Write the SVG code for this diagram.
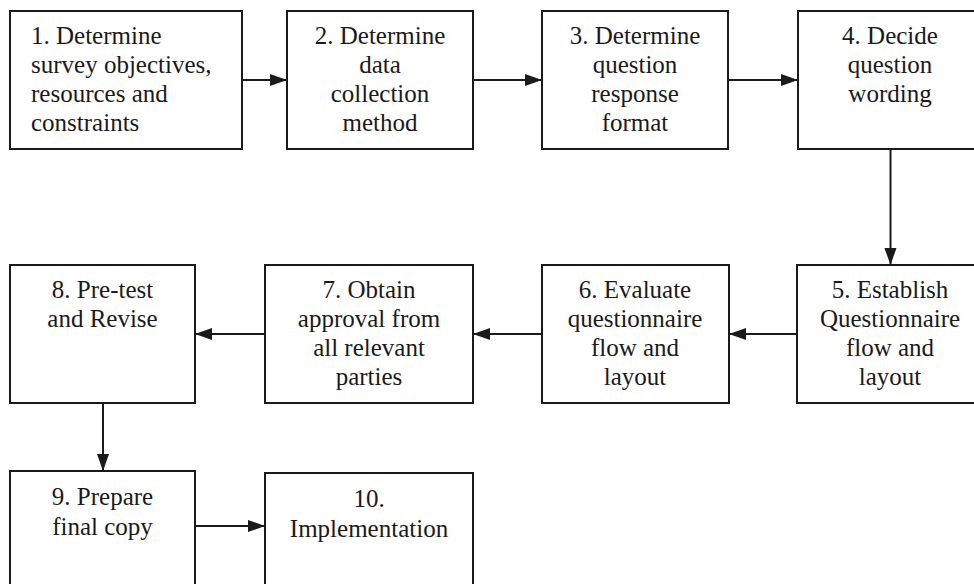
<svg xmlns="http://www.w3.org/2000/svg" width="974" height="584" viewBox="0 0 974 584">
  <style>
    .box { fill: #ffffff; stroke: #1a1a1a; stroke-width: 2; }
    text { font-size: 25px; fill: #1a1a1a; text-anchor: middle; }
    text.left { text-anchor: start; }
    .conn { stroke: #1a1a1a; stroke-width: 2; fill: none; marker-end: url(#arrow); }
  </style>
  <defs>
    <marker id="arrow" markerUnits="userSpaceOnUse" markerWidth="18" markerHeight="13" refX="17" refY="6" orient="auto">
      <path d="M0,0 L17,6 L0,12 z" fill="#1a1a1a"/>
    </marker>
  </defs>
  <rect width="974" height="584" fill="#ffffff"/>

  <g font-family="Liberation Serif, Tinos, DejaVu Serif, Times New Roman, serif">
  <g id="step1">
    <rect class="box" x="10" y="11" width="232" height="138"/>
    <text class="left" x="31" y="44">1. Determine</text>
    <text class="left" x="31" y="73">survey objectives,</text>
    <text class="left" x="31" y="102">resources and</text>
    <text class="left" x="31" y="131">constraints</text>
  </g>
  <g id="step2">
    <rect class="box" x="287" y="11" width="186" height="138"/>
    <text x="380" y="44">2. Determine</text>
    <text x="380" y="73">data</text>
    <text x="380" y="102">collection</text>
    <text x="380" y="131">method</text>
  </g>
  <g id="step3">
    <rect class="box" x="542" y="11" width="186" height="138"/>
    <text x="635" y="44">3. Determine</text>
    <text x="635" y="73">question</text>
    <text x="635" y="102">response</text>
    <text x="635" y="131">format</text>
  </g>
  <g id="step4">
    <rect class="box" x="798" y="11" width="186" height="138"/>
    <text x="890" y="44">4. Decide</text>
    <text x="890" y="73">question</text>
    <text x="890" y="102">wording</text>
  </g>
  <g id="step5">
    <rect class="box" x="797" y="265" width="187" height="138"/>
    <text x="890" y="298">5. Establish</text>
    <text x="890" y="327">Questionnaire</text>
    <text x="890" y="356">flow and</text>
    <text x="890" y="385">layout</text>
  </g>
  <g id="step6">
    <rect class="box" x="542" y="265" width="187" height="138"/>
    <text x="635" y="298">6. Evaluate</text>
    <text x="635" y="327">questionnaire</text>
    <text x="635" y="356">flow and</text>
    <text x="635" y="385">layout</text>
  </g>
  <g id="step7">
    <rect class="box" x="265" y="265" width="208" height="138"/>
    <text x="369" y="298">7. Obtain</text>
    <text x="369" y="327">approval from</text>
    <text x="369" y="356">all relevant</text>
    <text x="369" y="385">parties</text>
  </g>
  <g id="step8">
    <rect class="box" x="10" y="265" width="185" height="138"/>
    <text x="102.5" y="298">8. Pre-test</text>
    <text x="102.5" y="327">and Revise</text>
  </g>
  <g id="step9">
    <rect class="box" x="10" y="471" width="185" height="130"/>
    <text x="102.5" y="505">9. Prepare</text>
    <text x="102.5" y="535">final copy</text>
  </g>
  <g id="step10">
    <rect class="box" x="265" y="473" width="208" height="130"/>
    <text x="369" y="507">10.</text>
    <text x="369" y="537">Implementation</text>
  </g>
  </g>

  <g id="connectors">
    <line class="conn" x1="242" y1="80" x2="287" y2="80"/>
    <line class="conn" x1="473" y1="80" x2="542" y2="80"/>
    <line class="conn" x1="728" y1="80" x2="798" y2="80"/>
    <line class="conn" x1="890.5" y1="149" x2="890.5" y2="265"/>
    <line class="conn" x1="797" y1="334" x2="729" y2="334"/>
    <line class="conn" x1="542" y1="334" x2="473" y2="334"/>
    <line class="conn" x1="265" y1="334" x2="195" y2="334"/>
    <line class="conn" x1="103" y1="403" x2="103" y2="471"/>
    <line class="conn" x1="195" y1="526" x2="265" y2="526"/>
  </g>
</svg>
